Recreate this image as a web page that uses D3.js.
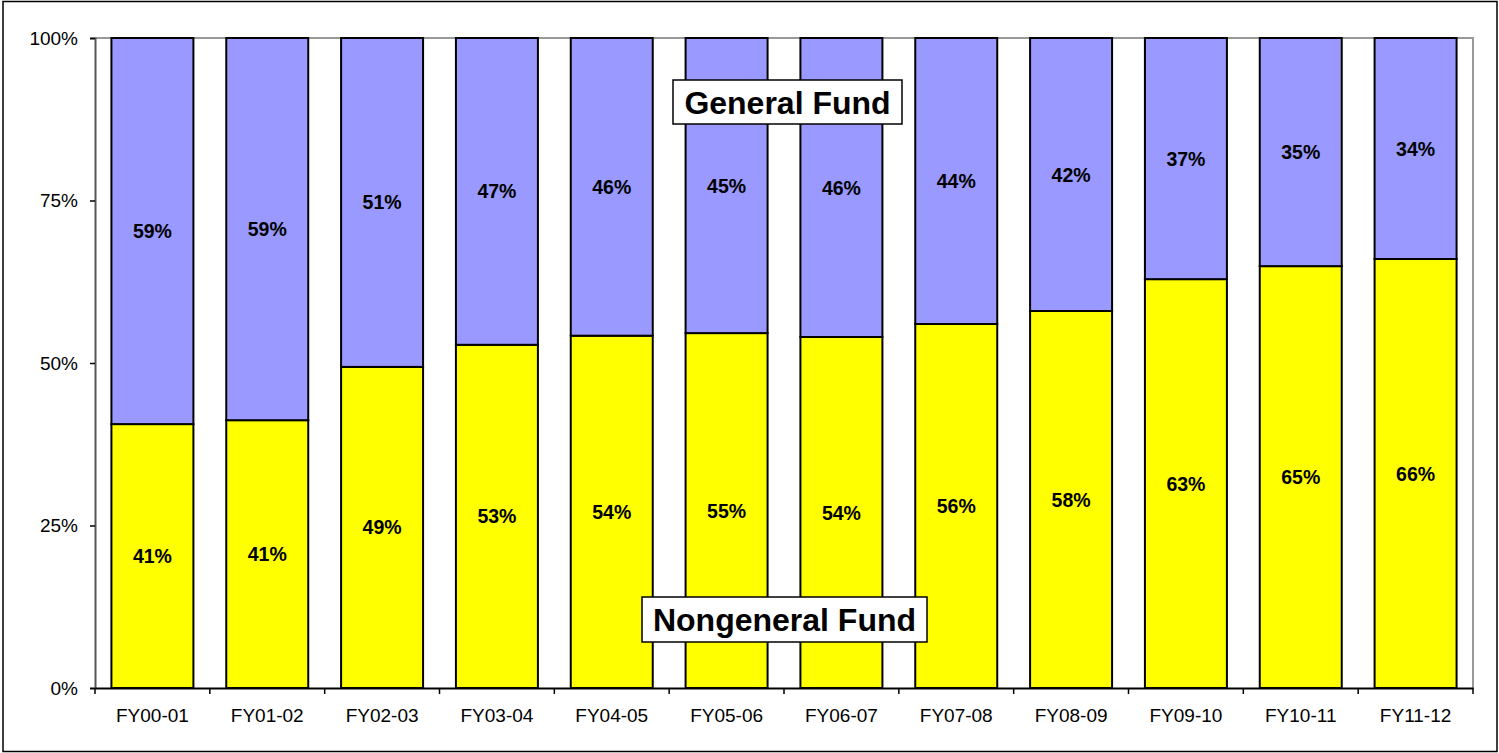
<!DOCTYPE html>
<html lang="en">
<head>
<meta charset="UTF-8">
<script src="https://cdnjs.cloudflare.com/ajax/libs/d3/7.8.5/d3.min.js"></script>
<style>
    body { margin: 0; background: #fff; }
    svg { display: block; font-family: "Liberation Sans", Arial, sans-serif; }
    .tick text { fill: #000; }
</style>
</head>
<body>
<svg id="chart" width="1499" height="753"></svg>
<script>
    // fiscal years
    var years = ["FY00-01", "FY01-02", "FY02-03", "FY03-04", "FY04-05", "FY05-06",
                 "FY06-07", "FY07-08", "FY08-09", "FY09-10", "FY10-11", "FY11-12"];
    // share of nongeneral fund, percent (bottom, yellow)
    var nongeneral = [40.6, 41.2, 49.4, 52.8, 54.2, 54.6, 54.0, 56.0, 58.0, 62.9, 64.9, 66.0];
    // share of general fund, percent (top, purple)
    var general = [59.4, 58.8, 50.6, 47.2, 45.8, 45.4, 46.0, 44.0, 42.0, 37.1, 35.1, 34.0];
    var yTicks = [0, 25, 50, 75, 100];

    var svg = d3.select("#chart");
    var plotL = 95, plotR = 1473, plotT = 38, plotB = 688;

    // outer frame
    svg.append("rect")
        .attr("x", 3).attr("y", 1.5).attr("width", 1494).attr("height", 750)
        .attr("fill", "#fff").attr("stroke", "#000").attr("stroke-width", 1.5);

    var x = d3.scaleBand().domain(years).range([plotL, plotR])
        .paddingInner(0.286).paddingOuter(0.143);
    var y = d3.scaleLinear().domain([0, 100]).range([plotB, plotT]);

    // plot area border (top / right)
    svg.append("path")
        .attr("d", "M" + plotL + "," + plotT + "H" + plotR + "V" + plotB)
        .attr("fill", "none").attr("stroke", "#999").attr("stroke-width", 2);

    var rows = years.map(function (d, i) {
        return {year: d, nongeneral: nongeneral[i], general: general[i]};
    });
    var stack = d3.stack().keys(["nongeneral", "general"]);
    var series = stack(rows);
    var colors = {nongeneral: "#ffff00", general: "#9999ff"};

    var groups = svg.selectAll("g.series").data(series).enter().append("g")
        .attr("class", "series");

    groups.selectAll("rect").data(function (s) { return s; }).enter().append("rect")
        .attr("x", function (d) { return x(d.data.year); })
        .attr("width", x.bandwidth())
        .attr("y", function (d) { return y(d[1]); })
        .attr("height", function (d) { return y(d[0]) - y(d[1]); })
        .attr("fill", function () { return colors[d3.select(this.parentNode).datum().key]; })
        .attr("stroke", "#000").attr("stroke-width", 2);

    groups.selectAll("text").data(function (s) { return s; }).enter().append("text")
        .attr("x", function (d) { return x(d.data.year) + x.bandwidth() / 2; })
        .attr("y", function (d) { return (y(d[0]) + y(d[1])) / 2; })
        .attr("dy", "0.36em")
        .attr("text-anchor", "middle")
        .attr("fill", "#000")
        .style("font-weight", "bold").style("font-size", "19.5px")
        .text(function (d) { return Math.round(d[1] - d[0]) + "%"; });

    // y axis
    var yAxis = svg.append("g").attr("transform", "translate(" + plotL + ",0)")
        .call(d3.axisLeft(y).tickValues(yTicks).tickSize(5).tickPadding(12)
            .tickFormat(function (d) { return d + "%"; }));
    yAxis.select(".domain").attr("stroke", "#555").attr("stroke-width", 2);
    yAxis.selectAll("line").attr("stroke", "#000").attr("stroke-width", 1.5);
    yAxis.selectAll("text").style("font-size", "19px");

    // x axis, labels centred on bars, ticks on category boundaries
    var xAxis = svg.append("g").attr("transform", "translate(0," + plotB + ")")
        .call(d3.axisBottom(x).tickSize(0).tickPadding(21));
    xAxis.select(".domain").attr("stroke", "#000").attr("stroke-width", 2);
    xAxis.selectAll("text").style("font-size", "19px");
    var edges = years.map(function (d) { return x(d) - (x.step() - x.bandwidth()) / 2; });
    edges.push(plotR);
    xAxis.selectAll("line.edge").data(edges).enter().append("line")
        .attr("class", "edge")
        .attr("x1", function (d) { return d; }).attr("x2", function (d) { return d; })
        .attr("y1", 0).attr("y2", 6)
        .attr("stroke", "#000").attr("stroke-width", 1.5);

    // series labels
    function boxLabel(text, cx, cy, w, h) {
        var g = svg.append("g");
        g.append("rect").attr("x", cx - w / 2).attr("y", cy - h / 2)
            .attr("width", w).attr("height", h)
            .attr("fill", "#fff").attr("stroke", "#000").attr("stroke-width", 1.5);
        g.append("text").attr("x", cx).attr("y", cy).attr("dy", "0.36em")
            .attr("text-anchor", "middle")
            .style("font-weight", "bold").style("font-size", "32px")
            .text(text);
    }
    boxLabel("General Fund", 787.5, 102, 229, 44);
    boxLabel("Nongeneral Fund", 784.5, 619.5, 285, 45);
</script>
</body>
</html>
